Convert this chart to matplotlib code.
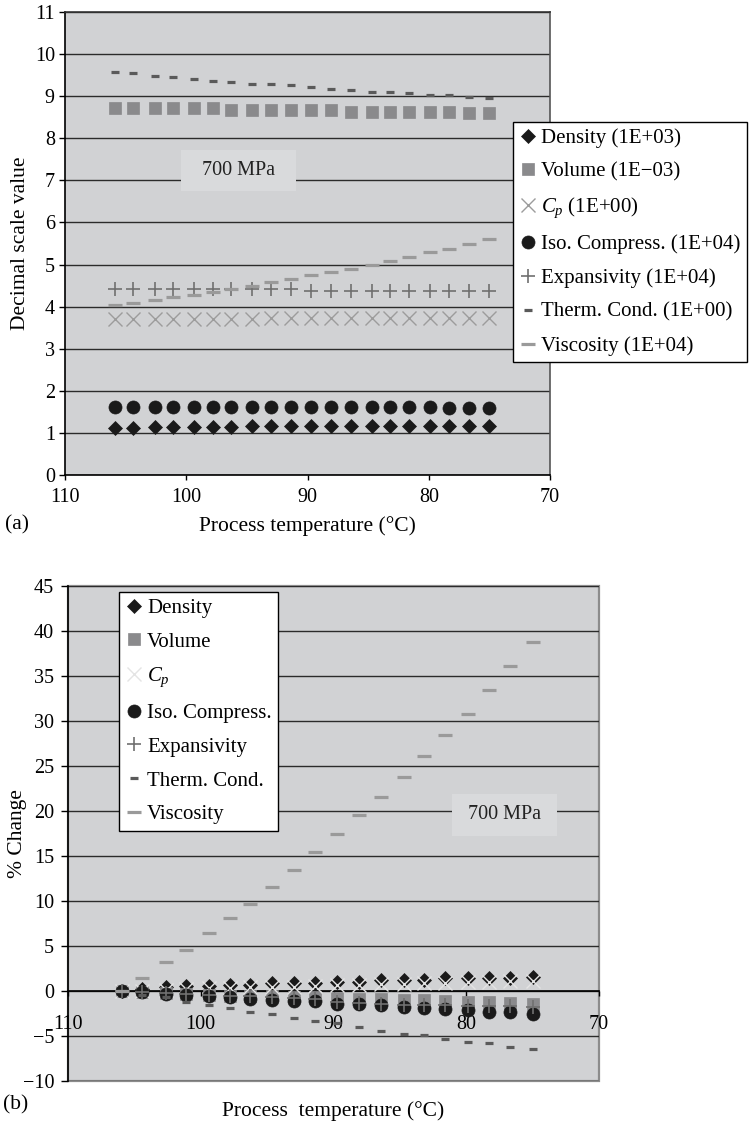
import matplotlib
matplotlib.use("Agg")
import matplotlib.pyplot as plt

plt.rcParams["font.family"] = ["Liberation Serif", "DejaVu Serif"]
plt.rcParams["mathtext.fontset"] = "custom"
plt.rcParams["mathtext.rm"] = "Liberation Serif"
plt.rcParams["mathtext.it"] = "Liberation Serif:italic"

# --- Data: process temperature (deg C) at 700 MPa ---
TEMPS = [105.9, 104.4, 102.6, 101.1, 99.4, 97.8, 96.3, 94.6, 93.0, 91.4,
         89.7, 88.1, 86.4, 84.7, 83.2, 81.6, 79.9, 78.3, 76.7, 75.0]

# (a) decimal scale values
density_a = [1.12, 1.12, 1.13, 1.13, 1.15, 1.15, 1.15, 1.16, 1.16, 1.16,
             1.16, 1.16, 1.16, 1.16, 1.16, 1.16, 1.17, 1.17, 1.17, 1.17]
volume_a = [8.71, 8.71, 8.71, 8.71, 8.71, 8.71, 8.67, 8.67, 8.67, 8.67,
            8.67, 8.67, 8.63, 8.63, 8.63, 8.63, 8.63, 8.63, 8.59, 8.59]
cp_a = [3.70, 3.70, 3.70, 3.70, 3.70, 3.70, 3.70, 3.70, 3.74, 3.74,
        3.74, 3.74, 3.74, 3.74, 3.74, 3.74, 3.74, 3.74, 3.74, 3.74]
iso_a = [1.62, 1.62, 1.62, 1.62, 1.62, 1.62, 1.62, 1.62, 1.62, 1.62,
         1.62, 1.62, 1.62, 1.62, 1.62, 1.62, 1.62, 1.58, 1.58, 1.58]
exp_a = [4.43, 4.43, 4.41, 4.41, 4.41, 4.41, 4.41, 4.41, 4.42, 4.42,
         4.37, 4.37, 4.37, 4.37, 4.37, 4.37, 4.37, 4.37, 4.37, 4.37]
therm_a = [9.58, 9.54, 9.49, 9.45, 9.41, 9.37, 9.34, 9.30, 9.30, 9.26,
           9.22, 9.18, 9.14, 9.11, 9.11, 9.07, 9.03, 9.03, 8.98, 8.95]
visc_a = [4.04, 4.08, 4.16, 4.22, 4.28, 4.35, 4.43, 4.49, 4.59, 4.66,
          4.74, 4.82, 4.90, 4.98, 5.09, 5.17, 5.29, 5.37, 5.49, 5.60]

# (b) % change relative to the first point
density_b = [0.0, 0.2, 0.4, 0.6, 0.6, 0.7, 0.7, 0.9, 0.9, 0.9,
             1.0, 1.0, 1.2, 1.2, 1.2, 1.4, 1.4, 1.5, 1.5, 1.6]
volume_b = [0.0, -0.1, -0.2, -0.3, -0.4, -0.5, -0.5, -0.6, -0.7, -0.7,
            -0.8, -0.9, -0.9, -1.0, -1.0, -1.1, -1.2, -1.2, -1.3, -1.4]
cp_b = [0.0, 0.0, 0.1, 0.2, 0.3, 0.3, 0.4, 0.5, 0.5, 0.6,
        0.7, 0.7, 0.8, 0.8, 0.9, 0.9, 1.0, 1.0, 1.1, 1.1]
iso_b = [0.0, -0.1, -0.3, -0.45, -0.55, -0.65, -0.9, -1.0, -1.15, -1.15,
         -1.4, -1.45, -1.5, -1.8, -1.9, -2.0, -2.1, -2.3, -2.3, -2.5]
exp_b = [0.0, -0.1, -0.2, -0.3, -0.4, -0.5, -0.6, -0.7, -0.8, -0.9,
         -1.2, -1.3, -1.4, -1.5, -1.5, -1.6, -1.7, -1.7, -1.7, -1.8]
therm_b = [0.0, -0.4, -0.7, -1.2, -1.6, -1.9, -2.3, -2.6, -3.0, -3.3,
           -3.6, -4.0, -4.4, -4.8, -4.9, -5.3, -5.7, -5.8, -6.2, -6.4]
visc_b = [0.0, 1.5, 3.2, 4.6, 6.4, 8.1, 9.7, 11.6, 13.5, 15.4,
          17.4, 19.6, 21.6, 23.8, 26.1, 28.5, 30.8, 33.4, 36.1, 38.8]

SERIES = ["density", "volume", "cp", "iso", "exp", "therm", "visc"]
NAMES = {
    "density": "Density",
    "volume": "Volume",
    "cp": r"$C_p$",
    "iso": "Iso. Compress.",
    "exp": "Expansivity",
    "therm": "Therm. Cond.",
    "visc": "Viscosity",
}
SCALES = {
    "density": "(1E+03)",
    "volume": "(1E\u221203)",
    "cp": "(1E+00)",
    "iso": "(1E+04)",
    "exp": "(1E+04)",
    "therm": "(1E+00)",
    "visc": "(1E+04)",
}
VALUES_A = dict(density=density_a, volume=volume_a, cp=cp_a, iso=iso_a,
                exp=exp_a, therm=therm_a, visc=visc_a)
VALUES_B = dict(density=density_b, volume=volume_b, cp=cp_b, iso=iso_b,
                exp=exp_b, therm=therm_b, visc=visc_b)

# --- Styling ---
BG = "#d1d2d4"
GRID = "#2b2b2b"
STYLE = {
    "density": dict(marker="D", markersize=7.4, color="#1a1a1a", markeredgewidth=0.5),
    "volume": dict(marker="s", markersize=9.0, color="#8a8a8c", markeredgewidth=0.5),
    "cp": dict(marker="x", markersize=9.4, color="#9c9c9c", markeredgewidth=1.0),
    "iso": dict(marker="o", markersize=9.4, color="#1a1a1a", markeredgewidth=0.5),
    "exp": dict(marker="+", markersize=10.0, color="#707070", markeredgewidth=1.2),
    "therm": dict(marker="_", markersize=5.8, color="#5a5a5a", markeredgewidth=2.3),
    "visc": dict(marker="_", markersize=10.0, color="#9a9a9a", markeredgewidth=2.3),
}
CP_LIGHT = "#e4e4e4"  # C_p crosses are paler in the % change plot

W, H = 750, 1130
FS_TICK = 14.5
FS_LABEL = 15.5
FS_LEGEND = 15


def px(x, y):
    """Pixel position (from top-left) to figure fraction."""
    return x / W, 1 - y / H


def style_legend(leg):
    frame = leg.get_frame()
    frame.set_edgecolor("black")
    frame.set_linewidth(1.0)
    frame.set_facecolor("white")
    frame.set_alpha(1)


def mpa_box(ax, x, y, label):
    ax.text(x, y, label, ha="center", va="center", fontsize=14.5,
            color="#222222", zorder=2,
            bbox=dict(boxstyle="square,pad=0.55", fc="#d9dadc", ec="none"))


def add_legend(ax, anchor):
    leg = ax.legend(loc="upper left", bbox_to_anchor=px(*anchor),
                    bbox_transform=fig.transFigure, fontsize=FS_LEGEND,
                    frameon=True, fancybox=False, handlelength=0.8,
                    handletextpad=0.25, labelspacing=0.68, borderpad=0.3,
                    borderaxespad=0)
    style_legend(leg)
    return leg


fig = plt.figure(figsize=(W / 100, H / 100), dpi=100)

# ---------------- (a) decimal scale values ----------------
l, b = px(65, 475)
r, t = px(550, 12)
ax1 = fig.add_axes([l, b, r - l, t - b])
ax1.set_facecolor(BG)
for key in SERIES:
    ax1.plot(TEMPS, VALUES_A[key], linestyle="none", zorder=3,
             label=f"{NAMES[key]} {SCALES[key]}", **STYLE[key])

ax1.set_xlim(110, 70)
ax1.set_ylim(0, 11)
ax1.set_xticks([110, 100, 90, 80, 70])
ax1.set_yticks(range(0, 12))
ax1.yaxis.grid(True, color=GRID, linewidth=1.0)
ax1.set_axisbelow(True)
ax1.tick_params(axis="x", direction="out", length=3.6, width=1, pad=5.5,
                labelsize=FS_TICK)
ax1.tick_params(axis="y", direction="out", length=4.3, width=1, pad=3,
                labelsize=FS_TICK)
ax1.spines["left"].set_color("black")
ax1.spines["bottom"].set_color("black")
ax1.spines["top"].set_color("#333333")
ax1.spines["right"].set_color("#555555")
for s in ax1.spines.values():
    s.set_linewidth(1.2)

ax1.set_xlabel("Process temperature (°C)", fontsize=FS_LABEL)
ax1.xaxis.set_label_coords(0.5, -0.088)
ax1.set_ylabel("Decimal scale value", fontsize=FS_LABEL)
ax1.yaxis.set_label_coords(-0.072, 0.5)

mpa_box(ax1, 95.7, 7.24, "  700 MPa  ")
add_legend(ax1, (513, 122))
fig.text(*px(17, 525), "(a)", ha="center", va="center", fontsize=FS_LABEL)

# ---------------- (b) % change ----------------
l, b = px(68, 1081)
r, t = px(599, 586)
ax2 = fig.add_axes([l, b, r - l, t - b])
ax2.set_facecolor(BG)
for key in SERIES:
    st = dict(STYLE[key])
    if key == "cp":
        st["color"] = CP_LIGHT
    ax2.plot(TEMPS, VALUES_B[key], linestyle="none", zorder=3,
             label=NAMES[key], **st)

ax2.set_xlim(110, 70)
ax2.set_ylim(-10, 45)
ax2.set_xticks([110, 100, 90, 80, 70])
ax2.set_yticks(range(-10, 50, 5))
ax2.yaxis.grid(True, color=GRID, linewidth=1.0)
ax2.set_axisbelow(True)

# x axis crosses at zero; plot area keeps a grey border
ax2.spines["bottom"].set_position(("data", 0))
ax2.spines["bottom"].set_color("black")
ax2.spines["left"].set_color("black")
ax2.spines["top"].set_visible(False)
ax2.spines["right"].set_visible(False)
ax2.spines["bottom"].set_linewidth(1.2)
ax2.spines["left"].set_linewidth(1.2)
ax2.patch.set_edgecolor("#8c8c8c")
ax2.patch.set_linewidth(1.6)

ax2.tick_params(axis="x", direction="out", length=3.6, width=1, pad=13.5,
                labelsize=FS_TICK)
ax2.tick_params(axis="y", direction="out", length=5, width=1, pad=5,
                labelsize=FS_TICK)

ax2.set_xlabel("Process  temperature (°C)", fontsize=FS_LABEL)
ax2.xaxis.set_label_coords(0.5, -0.04)
ax2.set_ylabel("% Change", fontsize=FS_LABEL)
ax2.yaxis.set_label_coords(-0.077, 0.5)

mpa_box(ax2, 77.1, 19.56, " 700 MPa ")
add_legend(ax2, (119, 592))
fig.text(*px(16, 1105), "(b)", ha="center", va="center", fontsize=FS_LABEL)

fig.savefig("out.png", dpi=100, facecolor="white")
